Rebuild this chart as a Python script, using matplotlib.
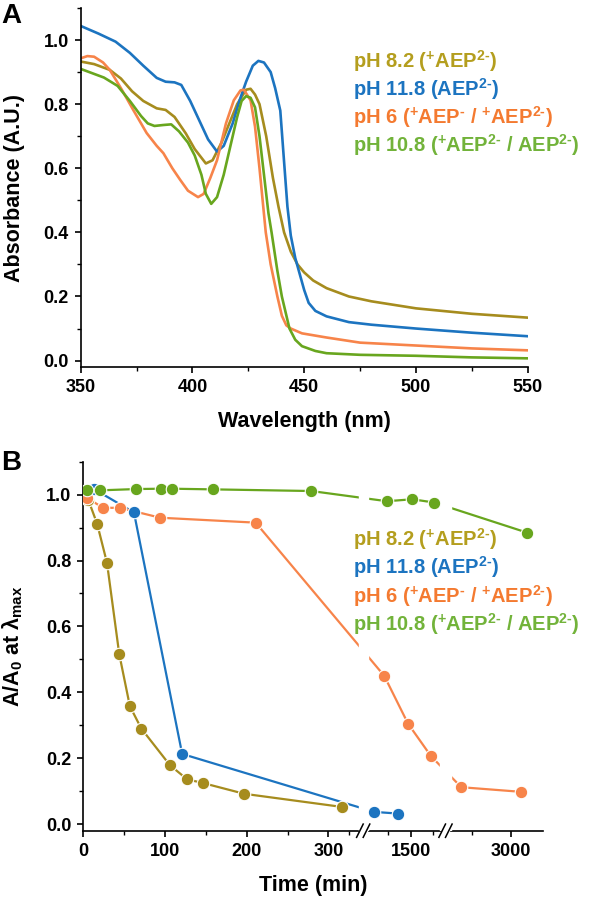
import numpy as np
import matplotlib
matplotlib.use("Agg")
from matplotlib import pyplot as plt
from matplotlib.patches import Rectangle

plt.rcParams['font.family'] = ['Liberation Sans', 'DejaVu Sans']
plt.rcParams['font.weight'] = 'bold'
plt.rcParams['mathtext.fontset'] = 'custom'
plt.rcParams['mathtext.rm'] = 'Liberation Sans'
plt.rcParams['mathtext.it'] = 'Liberation Sans:italic'
plt.rcParams['mathtext.bf'] = 'Liberation Sans:bold'

# ---- panel A : absorbance spectra ----
wl_82 = [350, 356, 363, 368, 373, 378, 384, 388, 392, 397, 401, 406, 409, 413, 416.5, 420, 424, 426,
         428, 430, 433, 436, 438.5, 441, 444, 447, 450, 454, 460, 470, 480, 500, 525, 550]
ab_82 = [0.933, 0.925, 0.907, 0.88, 0.84, 0.81, 0.787, 0.782, 0.76, 0.709, 0.66, 0.615, 0.625, 0.68, 0.74, 0.8, 0.845, 0.848,
         0.83, 0.8, 0.7, 0.57, 0.48, 0.4, 0.34, 0.3, 0.275, 0.25, 0.226, 0.2, 0.185, 0.163, 0.146, 0.134]

wl_118 = [350, 358, 365.6, 372, 378, 384, 388, 392, 395, 399, 403, 407, 411, 414, 418, 421, 424, 427, 429.5,
          432, 435, 437, 439.3, 441, 442.5, 444, 446, 448, 450, 452, 455, 460, 470, 480, 500, 525, 550]
ab_118 = [1.044, 1.02, 0.995, 0.96, 0.92, 0.882, 0.87, 0.868, 0.86, 0.81, 0.75, 0.69, 0.652, 0.67, 0.74, 0.81, 0.87, 0.92, 0.935,
          0.93, 0.9, 0.85, 0.78, 0.62, 0.48, 0.39, 0.32, 0.27, 0.22, 0.18, 0.155, 0.138, 0.12, 0.112, 0.1, 0.087, 0.076]

wl_6 = [350, 353, 356, 360, 363, 368, 373.5, 379.5, 384, 387, 391, 394.5, 398, 402.5, 405, 408, 411, 415, 418.5,
        421.5, 423, 426, 428, 430, 432.8, 435, 438, 440, 442, 444, 449, 460, 475, 500, 525, 550]
ab_6 = [0.943, 0.95, 0.948, 0.93, 0.907, 0.85, 0.782, 0.71, 0.67, 0.647, 0.6, 0.564, 0.53, 0.51, 0.52, 0.57, 0.625, 0.74, 0.812,
        0.843, 0.845, 0.812, 0.73, 0.6, 0.4, 0.3, 0.2, 0.14, 0.11, 0.1, 0.085, 0.072, 0.056, 0.047, 0.038, 0.032]

wl_108 = [350, 355, 360.4, 366.5, 372, 377, 380, 383, 387, 390.5, 394, 398, 401, 404, 406, 408.4, 411, 414, 417,
          420, 422, 424, 426, 428, 430, 432, 434, 435.4, 438, 440, 443.4, 446, 449, 455, 460, 475, 500, 525, 550]
ab_108 = [0.91, 0.897, 0.883, 0.857, 0.81, 0.763, 0.74, 0.732, 0.735, 0.737, 0.715, 0.68, 0.64, 0.58, 0.52, 0.489, 0.51, 0.58, 0.67,
          0.76, 0.81, 0.825, 0.82, 0.79, 0.7, 0.58, 0.46, 0.4, 0.28, 0.2, 0.1, 0.065, 0.045, 0.03, 0.023, 0.018, 0.015, 0.01, 0.007]

# ---- panel B : A/A0 vs time ----
t_82 = [0, 6, 17, 29, 44, 57, 71, 106, 127, 146, 197, 317]
r_82 = [1.0, 0.985, 0.911, 0.793, 0.516, 0.358, 0.29, 0.179, 0.136, 0.125, 0.092, 0.052]
t_118 = [2, 13, 62, 121, 1095, 1360]
r_118 = [1.0, 1.017, 0.946, 0.213, 0.037, 0.032]
t_6 = [5, 24, 45, 94, 211, 1205, 1470, 1727, 2363, 3130]
r_6 = [0.99, 0.96, 0.96, 0.93, 0.915, 0.45, 0.305, 0.206, 0.112, 0.098]
t_108 = [5, 20, 65, 95, 109, 159, 279, 1236, 1518, 1763, 3205]
r_108 = [1.013, 1.013, 1.017, 1.018, 1.018, 1.016, 1.011, 0.980, 0.986, 0.976, 0.885]

hy = '\u2010'
labels = [r'pH 8.2 ($^{\mathbf{+}}$AEP$^{\mathbf{2' + hy + r'}}$)',
          r'pH 11.8 (AEP$^{\mathbf{2' + hy + r'}}$)',
          r'pH 6 ($^{\mathbf{+}}$AEP$^{\mathbf{' + hy + r'}}$ / $^{\mathbf{+}}$AEP$^{\mathbf{2' + hy + r'}}$)',
          r'pH 10.8 ($^{\mathbf{+}}$AEP$^{\mathbf{2' + hy + r'}}$ / AEP$^{\mathbf{2' + hy + r'}}$)']
line_cols = ['#A68C1E', '#1C74C0', '#F7844A', '#68A61E']
text_cols = ['#B49E1E', '#1C74C0', '#F47A30', '#72B33A']

W, H = 590, 900
fig = plt.figure(figsize=(5.9, 9), dpi=100)


def box(l, t, r, b):
    return [l / W, 1 - b / H, (r - l) / W, (b - t) / H]


def style(ax):
    for s in ['top', 'right']:
        ax.spines[s].set_visible(False)
    for s in ['left', 'bottom']:
        ax.spines[s].set_linewidth(1.2)
    ax.tick_params(which='major', direction='out', length=4.5, width=1.2, labelsize=13, pad=4)
    ax.tick_params(which='minor', direction='out', length=2.8, width=1.0)
    for lab in ax.get_xticklabels() + ax.get_yticklabels():
        lab.set_fontweight('bold')


# panel A
axA = fig.add_axes(box(80.7, 8, 527.7, 367))
spectra = [(wl_82, ab_82), (wl_118, ab_118), (wl_6, ab_6), (wl_108, ab_108)]
for (x, y), c in zip(spectra, line_cols):
    axA.plot(x, y, color=c, lw=1.9)
axA.set_xlim(350, 550)
axA.set_ylim(-0.02, 1.1)
axA.set_xticks([350, 400, 450, 500, 550])
axA.set_xticks([375, 425, 475, 525], minor=True)
axA.set_yticks([0.0, 0.2, 0.4, 0.6, 0.8, 1.0])
axA.set_yticks([0.1, 0.3, 0.5, 0.7, 0.9, 1.1], minor=True)
axA.set_yticklabels(['0.0', '0.2', '0.4', '0.6', '0.8', '1.0'])
style(axA)
axA.set_xlabel('Wavelength (nm)', fontsize=15.5, fontweight='bold')
axA.set_ylabel('Absorbance (A.U.)', fontsize=15.5, fontweight='bold')
axA.xaxis.set_label_coords(0.5, -44 / 359)
axA.yaxis.set_label_coords(-0.125, 0.5)

# panel B with broken time axis (piecewise linear scale)
t_pts = [0, 342, 968, 1916, 2196, 3410]
u_pts = [83.3, 362.7, 363.0, 448.0, 448.3, 542.7]


def fwd(t):
    return np.interp(t, t_pts, u_pts)


def inv(u):
    return np.interp(u, u_pts, t_pts)


axB = fig.add_axes(box(83.3, 461.7, 542.7, 830.7))
axB.set_xscale('function', functions=(fwd, inv))
series = [(t_82, r_82), (t_118, r_118), (t_6, r_6), (t_108, r_108)]
for (x, y), c in zip(series, line_cols):
    axB.plot(x, y, color=c, lw=1.6, zorder=2)
    axB.plot(x, y, ls='none', marker='o', ms=9, mfc=c, mec='white', mew=0.8, zorder=4)

axB.set_xlim(0, 3410)
axB.set_ylim(-0.02, 1.1)
axB.set_xticks([0, 100, 200, 300, 1500, 3000])
axB.set_xticks([50, 150, 250, 325, 1250, 1750, 2500], minor=True)
axB.set_xticklabels(['0', '100', '200', '300', '1500', '3000'])
axB.set_yticks([0.0, 0.2, 0.4, 0.6, 0.8, 1.0])
axB.set_yticks([0.1, 0.3, 0.5, 0.7, 0.9, 1.1], minor=True)
axB.set_yticklabels(['0.0', '0.2', '0.4', '0.6', '0.8', '1.0'])
style(axB)
axB.set_xlabel('Time (min)', fontsize=15.5, fontweight='bold')
axB.set_ylabel(r'A/A$_\mathbf{0}$ at $\mathrm{\lambda}_{\mathrm{max}}$', fontsize=15.5, fontweight='bold')
axB.xaxis.set_label_coords(0.5, -44 / 369)
axB.yaxis.set_label_coords(-0.127, 0.5)

# white gaps and break marks
wB = 542.7 - 83.3
for uc, gw in [(363.2, 9), (445.5, 11)]:
    f = (uc - 83.3) / wB
    axB.add_patch(Rectangle((f - gw / 2 / wB, 0.0), gw / wB, 1.0, transform=axB.transAxes,
                            color='white', zorder=3))
    axB.add_patch(Rectangle((f - 3.5 / wB, -0.02), 7 / wB, 0.04, transform=axB.transAxes,
                            color='white', zorder=5, clip_on=False))
    for dx in (-3.3, 3.3):
        fx = f + dx / wB
        axB.plot([fx - 3.3 / wB, fx + 3.3 / wB], [-0.018, 0.018], transform=axB.transAxes,
                 color='black', lw=1.1, clip_on=False, zorder=6)

# legends as coloured text
for i, (lab, c) in enumerate(zip(labels, text_cols)):
    fig.text(353 / W, 1 - (61 + 28 * i) / H, lab, color=c, fontsize=14.5, fontweight='bold', va='center')
    fig.text(353 / W, 1 - (539 + 28.5 * i) / H, lab, color=c, fontsize=14.5, fontweight='bold', va='center')

fig.text(11.5 / W, 1 - 16 / H, 'A', fontsize=20, fontweight='bold', ha='center', va='center')
fig.text(11 / W, 1 - 463 / H, 'B', fontsize=20, fontweight='bold', ha='center', va='center')

fig.savefig('out.png', dpi=100)
